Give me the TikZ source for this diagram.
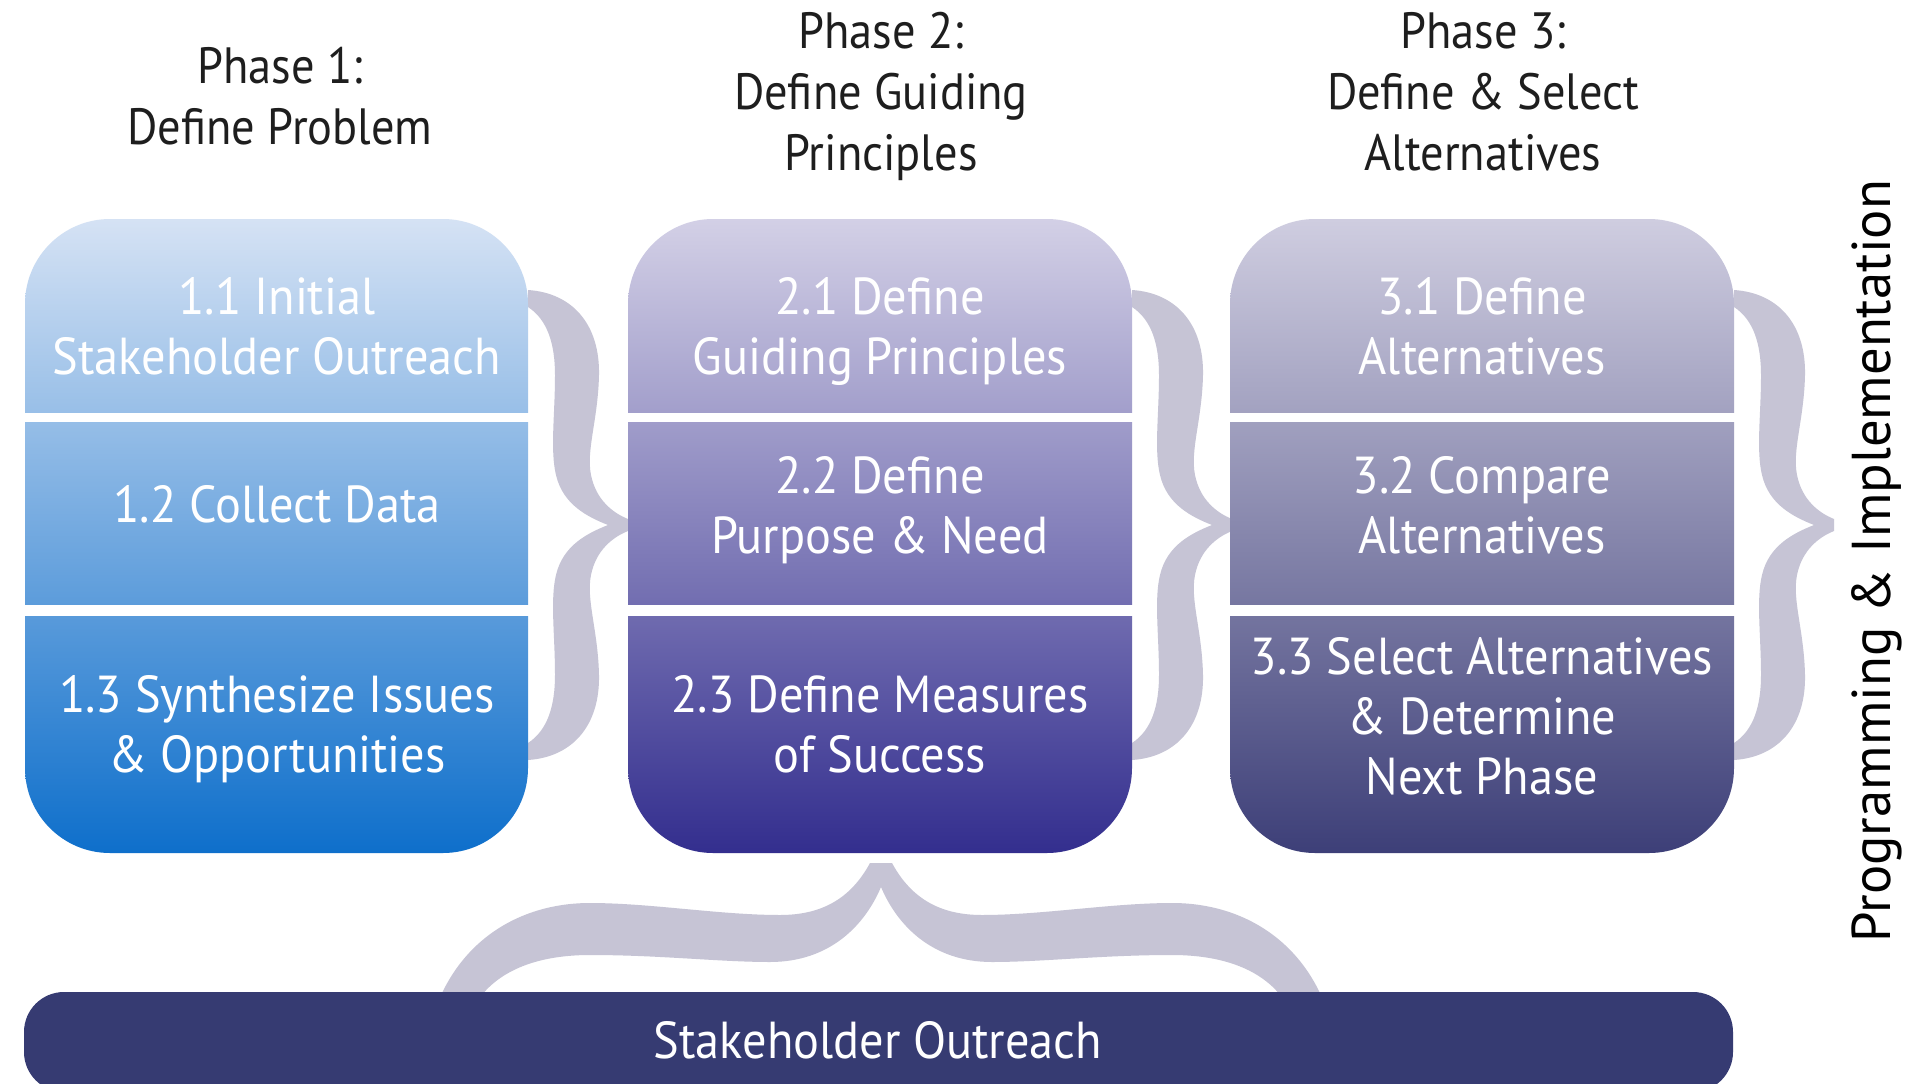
\documentclass[tikz,border=0pt]{standalone}
\usepackage{fontspec}
\newfontfamily\diafont[FakeStretch=0.93]{PT Sans}
\newfontfamily\ttlfont[FakeStretch=0.91]{PT Sans}
\newfontfamily\vertfont{PT Sans}
\definecolor{c1top}{HTML}{D5E2F4}
\definecolor{c1bot}{HTML}{0E6FCB}
\definecolor{c2top}{HTML}{D3D0E6}
\definecolor{c2bot}{HTML}{332E8E}
\definecolor{c3top}{HTML}{CFCDE0}
\definecolor{c3bot}{HTML}{3D3F78}
\definecolor{barcol}{HTML}{363B72}
\definecolor{bracecol}{HTML}{C6C4D5}
\definecolor{titlecol}{HTML}{1E1E1E}
\newcommand\lnst{\rule[-0.25em]{0pt}{1em}}
\begin{document}
\begin{tikzpicture}[x=1pt,y=1pt,
  boxtext/.style={text=white, font=\diafont\fontsize{52}{60}\selectfont, align=center, inner sep=0pt},
  titletext/.style={text=titlecol, font=\ttlfont\fontsize{51}{61}\selectfont, align=center, inner sep=0pt},
  verttext/.style={text=black, font=\vertfont\fontsize{54.7}{60}\selectfont, inner sep=0pt, rotate=90},
  sidebrace/.pic={
    \fill[bracecol] (0,235) .. controls (45,232) and (72,200) .. (71,150)
      .. controls (70,105) and (58,75) .. (63,50)
      .. controls (68,25) and (85,12) .. (100,6) -- (100,-6)
      .. controls (85,-12) and (68,-25) .. (63,-50)
      .. controls (58,-75) and (70,-105) .. (71,-150)
      .. controls (72,-200) and (45,-232) .. (0,-235) -- (0,-218)
      .. controls (20,-205) and (27,-180) .. (27,-150)
      .. controls (27,-110) and (22,-75) .. (28,-50)
      .. controls (35,-20) and (60,-8) .. (80,0)
      .. controls (60,8) and (35,20) .. (28,50)
      .. controls (22,75) and (27,110) .. (27,150)
      .. controls (27,180) and (20,205) .. (0,218) -- cycle;
  }]
\useasboundingbox (0,0) rectangle (1917,-1084);
\fill[white] (0,0) rectangle (1917,-1084);

% braces
\pic (br1) at (528,-525) {sidebrace};
\pic (br2) at (1132,-525) {sidebrace};
\pic (br3) at (1734,-525) {sidebrace};
\fill[bracecol] (870,-863) .. controls (850,-900) and (820,-915) .. (780,-915)
  .. controls (720,-915) and (650,-903) .. (590,-903)
  .. controls (520,-903) and (460,-940) .. (435,-1010) -- (472,-1010)
  .. controls (490,-975) and (530,-955) .. (590,-955)
  .. controls (660,-955) and (720,-962) .. (770,-962)
  .. controls (830,-962) and (865,-925) .. (881,-887)
  .. controls (897,-925) and (932,-962) .. (992,-962)
  .. controls (1042,-962) and (1102,-955) .. (1172,-955)
  .. controls (1232,-955) and (1272,-975) .. (1290,-1010) -- (1327,-1010)
  .. controls (1302,-940) and (1242,-903) .. (1172,-903)
  .. controls (1112,-903) and (1042,-915) .. (982,-915)
  .. controls (942,-915) and (912,-900) .. (892,-863) -- cycle;

% columns
\shade[top color=c1top, bottom color=c1bot, rounded corners=85pt] (25,-219) rectangle (528,-853);
\shade[top color=c2top, bottom color=c2bot, rounded corners=85pt] (628,-219) rectangle (1132,-853);
\shade[top color=c3top, bottom color=c3bot, rounded corners=85pt] (1230,-219) rectangle (1734,-853);
\foreach \xa/\xb in {24/529, 627/1133, 1229/1735}{
  \fill[white] (\xa,-413) rectangle (\xb,-422);
  \fill[white] (\xa,-605) rectangle (\xb,-616);
}

% bottom bar
\fill[barcol, rounded corners=40pt] (24,-992) rectangle (1733,-1092);
\node[boxtext] (sobar) at (878,-1045) {\lnst Stakeholder Outreach};

% titles
\node[titletext] (ph1) at (280,-101) {\lnst Phase 1:\\\lnst Define Problem};
\node[titletext] (ph2) at (881,-97) {\lnst Phase 2:\\Define Guiding\\\lnst Principles};
\node[titletext] (ph3) at (1483,-97) {\lnst Phase 3:\\Define \& Select\\\lnst Alternatives};

% box texts
\node[boxtext] (t11) at (277,-331) {\lnst 1.1 Initial\\\lnst Stakeholder Outreach};
\node[boxtext] (t12) at (277,-509) {\lnst 1.2 Collect Data};
\node[boxtext] (t13) at (277,-729) {\lnst 1.3 Synthesize Issues\\\lnst \& Opportunities};
\node[boxtext] (t21) at (880,-331) {\lnst 2.1 Define\\\lnst Guiding Principles};
\node[boxtext] (t22) at (880,-510) {\lnst 2.2 Define\\\lnst Purpose \& Need};
\node[boxtext] (t23) at (880,-729) {\lnst 2.3 Define Measures\\\lnst of Success};
\node[boxtext] (t31) at (1482,-331) {\lnst 3.1 Define\\\lnst Alternatives};
\node[boxtext] (t32) at (1482,-510) {\lnst 3.2 Compare\\\lnst Alternatives};
\node[boxtext] (t33) at (1482,-721) {\lnst 3.3 Select Alternatives\\\& Determine\\\lnst Next Phase};

% right vertical label
\node[verttext] (impl) at (1877,-561) {Programming \& Implementation};
\end{tikzpicture}
\end{document}
